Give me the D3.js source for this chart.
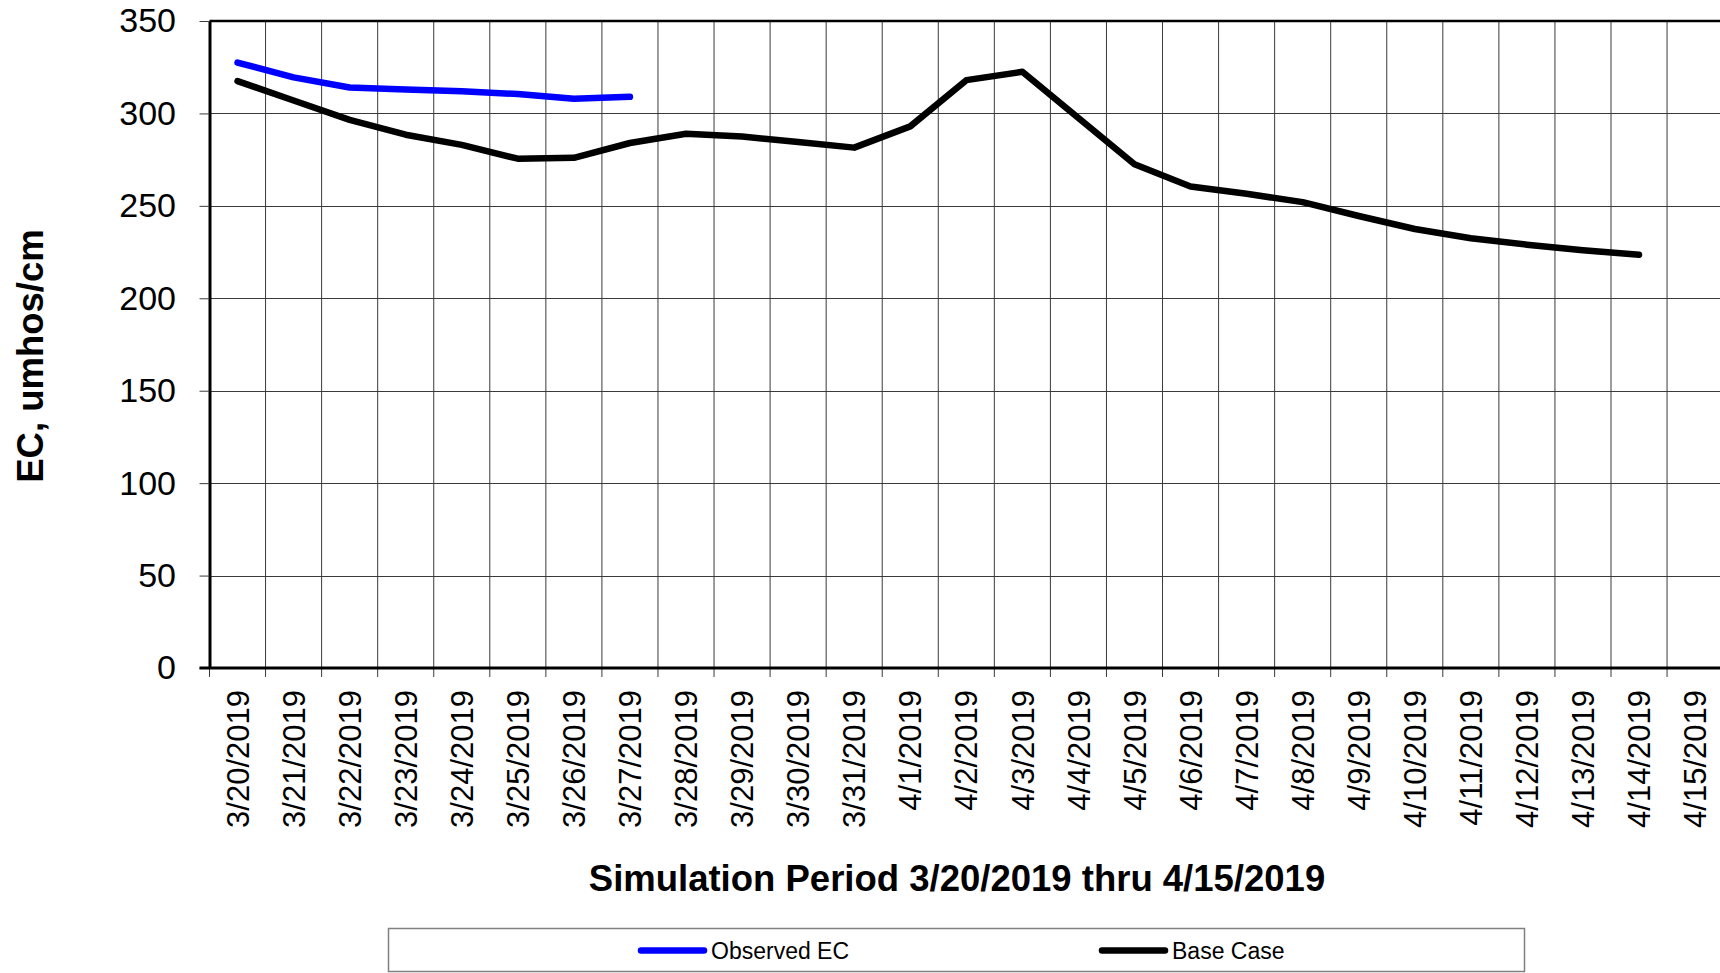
<!DOCTYPE html>
<html>
<head>
<meta charset="utf-8">
<script src="https://cdn.jsdelivr.net/npm/d3@7"></script>
<style>
  html, body { margin: 0; padding: 0; background: #fff; }
  svg { display: block; font-family: "Liberation Sans", Arial, sans-serif; }
</style>
</head>
<body>
<svg width="1720" height="973"></svg>
<script>
// dates along the simulation period
const dates = ["3/20/2019", "3/21/2019", "3/22/2019", "3/23/2019", "3/24/2019", "3/25/2019",
  "3/26/2019", "3/27/2019", "3/28/2019", "3/29/2019", "3/30/2019", "3/31/2019",
  "4/1/2019", "4/2/2019", "4/3/2019", "4/4/2019", "4/5/2019", "4/6/2019", "4/7/2019",
  "4/8/2019", "4/9/2019", "4/10/2019", "4/11/2019", "4/12/2019", "4/13/2019",
  "4/14/2019", "4/15/2019"];

// observed EC, only the first 8 days
const observedEC = [327.5, 319.5, 314, 313, 312, 310.5, 308, 309];

// model base case, 3/20 thru 4/14
const baseCase = [317.5, 307, 296.5, 288.5, 283, 275.5, 276, 284, 289, 287.5, 284.5, 281.5,
  293, 318, 322.5, 297.5, 272.5, 260.5, 256.5, 252, 244.5, 237.5, 232.5, 229, 226, 223.5];

const yTicks = [0, 50, 100, 150, 200, 250, 300, 350];

const svg = d3.select("svg");

const plotLeft = 209.5, plotTop = 21, plotBottom = 668;
const step = 56.06;
const plotRight = plotLeft + step * dates.length;

const x = d3.scaleBand().domain(dates).range([plotLeft, plotRight]).paddingInner(0).paddingOuter(0);
const y = d3.scaleLinear().domain([0, 350]).range([plotBottom, plotTop]);

// horizontal grid
svg.append("g")
  .selectAll("line")
  .data(yTicks)
  .join("line")
  .attr("x1", plotLeft).attr("x2", plotRight)
  .attr("y1", d => Math.round(y(d)) + 0.5).attr("y2", d => Math.round(y(d)) + 0.5)
  .attr("stroke", "#3a3a3a")
  .attr("stroke-width", 1);

// vertical grid at day boundaries
const bounds = dates.map(d => x(d)).concat([plotRight]);
svg.append("g")
  .selectAll("line")
  .data(bounds.slice(1))
  .join("line")
  .attr("x1", d => d).attr("x2", d => d)
  .attr("y1", plotTop).attr("y2", plotBottom)
  .attr("stroke", "#3a3a3a")
  .attr("stroke-width", 1);

// x tick marks (below axis, at boundaries)
svg.append("g")
  .selectAll("line")
  .data(bounds)
  .join("line")
  .attr("x1", d => d).attr("x2", d => d)
  .attr("y1", plotBottom).attr("y2", plotBottom + 9)
  .attr("stroke", "#3a3a3a")
  .attr("stroke-width", 1);

// top border of plot area
svg.append("line")
  .attr("x1", plotLeft).attr("x2", plotRight)
  .attr("y1", plotTop).attr("y2", plotTop)
  .attr("stroke", "#000").attr("stroke-width", 2.5);

// y axis
const yAxis = svg.append("g")
  .attr("transform", `translate(${plotLeft},0)`)
  .call(d3.axisLeft(y).tickValues(yTicks).tickSize(10).tickPadding(23.5).tickSizeOuter(0));
yAxis.select(".domain").attr("stroke", "#000").attr("stroke-width", 3);
yAxis.selectAll(".tick line").attr("stroke", "#3a3a3a");
yAxis.selectAll(".tick text")
  .attr("font-size", 34)
  .attr("fill", "#000")
  .attr("font-family", "Liberation Sans, Arial, sans-serif");

// x axis labels at day centres
const xAxis = svg.append("g")
  .attr("transform", `translate(0,${plotBottom})`)
  .call(d3.axisBottom(x).tickSize(0).tickSizeOuter(0));
xAxis.select(".domain").remove();
xAxis.selectAll(".tick text")
  .attr("transform", "rotate(-90)")
  .attr("text-anchor", "end")
  .attr("x", -22)
  .attr("y", 0)
  .attr("dy", "0.36em")
  .attr("font-size", 31)
  .attr("fill", "#000")
  .attr("font-family", "Liberation Sans, Arial, sans-serif");

// bottom axis line
svg.append("line")
  .attr("x1", plotLeft - 10).attr("x2", plotRight)
  .attr("y1", plotBottom).attr("y2", plotBottom)
  .attr("stroke", "#000").attr("stroke-width", 3);

// series
const line = d3.line()
  .x((d, i) => x(dates[i]) + x.bandwidth() / 2)
  .y(d => y(d));

svg.append("path")
  .datum(baseCase)
  .attr("d", line)
  .attr("fill", "none")
  .attr("stroke", "#000")
  .attr("stroke-width", 6.5)
  .attr("stroke-linejoin", "round")
  .attr("stroke-linecap", "round");

svg.append("path")
  .datum(observedEC)
  .attr("d", line)
  .attr("fill", "none")
  .attr("stroke", "#0000ff")
  .attr("stroke-width", 6.5)
  .attr("stroke-linejoin", "round")
  .attr("stroke-linecap", "round");

// axis titles
svg.append("text")
  .attr("transform", "translate(43,356) rotate(-90)")
  .attr("text-anchor", "middle")
  .attr("font-size", 36.5)
  .attr("font-weight", "bold")
  .text("EC, umhos/cm");

svg.append("text")
  .attr("x", 957)
  .attr("y", 891)
  .attr("text-anchor", "middle")
  .attr("font-size", 36.5)
  .attr("font-weight", "bold")
  .text("Simulation Period 3/20/2019 thru 4/15/2019");

// legend
const legend = svg.append("g");
legend.append("rect")
  .attr("x", 388.5).attr("y", 928.5)
  .attr("width", 1136).attr("height", 43)
  .attr("fill", "#fff")
  .attr("stroke", "#808080").attr("stroke-width", 1.5);

const legendItems = [
  { name: "Observed EC", color: "#0000ff", x0: 641 },
  { name: "Base Case", color: "#000", x0: 1102 }
];
legendItems.forEach(item => {
  legend.append("line")
    .attr("x1", item.x0).attr("x2", item.x0 + 63)
    .attr("y1", 950.5).attr("y2", 950.5)
    .attr("stroke", item.color)
    .attr("stroke-width", 6.5)
    .attr("stroke-linecap", "round");
  legend.append("text")
    .attr("x", item.x0 + 70)
    .attr("y", 950.5)
    .attr("dy", "0.36em")
    .attr("font-size", 23)
    .text(item.name);
});
</script>
</body>
</html>
